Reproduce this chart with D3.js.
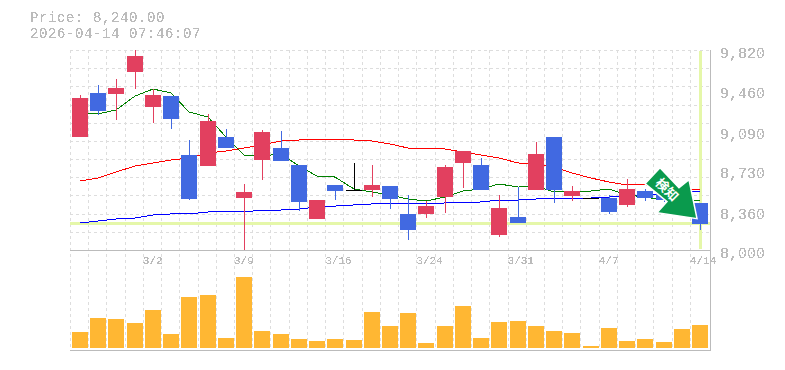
<!DOCTYPE html>
<html>
<head>
<meta charset="utf-8">
<script src="https://cdn.jsdelivr.net/npm/d3@7"></script>
<style>
html, body { margin: 0; padding: 0; background: #fff; overflow: hidden; }
text { font-family: "Liberation Mono", "DejaVu Sans Mono", monospace; fill: #bbb; }
</style>
</head>
<body>
<div id="chart"></div>
<script>
var dates = ["2/24","2/25","2/26","2/27","3/2","3/3","3/4","3/5","3/6","3/9","3/10","3/11","3/12","3/13","3/16","3/17","3/18","3/19","3/23","3/24","3/25","3/26","3/27","3/30","3/31","4/1","4/2","4/3","4/6","4/7","4/8","4/9","4/10","4/13","4/14"];
var dateTicks = ["3/2","3/9","3/16","3/24","3/31","4/7","4/14"];
var priceTicks = [8000, 8360, 8730, 9090, 9460, 9820];

var opens  = [9028,9429,9420,9620,9301,9401,8864,8764,9028,8473,8819,8928,8774,8282,8592,8546,8546,8582,8328,8328,8482,8792,8774,8137,8300,8546,9028,8491,8473,8473,8410,8537,8519,8473,8428];
var highs  = [9410,9501,9556,9820,9465,9401,9001,9238,9101,8601,9092,9083,8774,8455,8592,8792,8774,8582,8500,8446,8774,8901,8837,8500,8573,8983,9028,8582,8473,8500,8646,8555,8546,8528,8428];
var lows   = [9028,9228,9183,9465,9156,9101,8455,8764,8928,8000,8637,8810,8355,8282,8455,8546,8482,8373,8091,8291,8337,8564,8546,8118,8246,8546,8428,8446,8473,8328,8391,8446,8437,8346,8182];
var closes = [9383,9265,9474,9765,9410,9192,8464,9174,8928,8528,9074,8810,8437,8455,8537,8546,8592,8464,8182,8400,8755,8901,8546,8382,8246,8874,8546,8537,8473,8346,8555,8473,8455,8364,8240];

var maShort = [9247,9238,9274,9401,9465,9429,9256,9210,9028,8864,8855,8874,8764,8673,8664,8555,8528,8500,8464,8446,8482,8537,8555,8601,8573,8582,8528,8528,8537,8555,8500,8482,8455,8455,8446];
var maMid   = [8628,8655,8710,8764,8792,8819,8837,8883,8901,8928,8956,8992,9001,9010,9010,9001,8992,8965,8928,8928,8919,8892,8864,8837,8792,8783,8755,8701,8655,8619,8592,8592,8573,8555,8546];
var maLong  = [8246,8264,8282,8291,8319,8328,8328,8346,8346,8346,8364,8364,8373,8391,8400,8410,8419,8419,8419,8419,8428,8428,8437,8455,8455,8464,8473,8473,8473,8482,8491,8500,8510,8528,8537];

var volumes = [16,30,29,25,38,14,51,53,10,71,17,14,9,7,9,8,36,22,35,5,22,42,10,26,27,22,17,15,2,20,7,9,6,19,23];
var lastPrice = 8240;
var lastLabel = "Price: 8,240.00";
var stamp = "2026-04-14 07:46:07";
var signLabel = "検知";

var W = 785, H = 370;
var left = 70, right = 709, top_ = 50, priceBottom = 250, volBottom = 350;

var svg = d3.select("#chart").append("svg")
    .attr("width", W).attr("height", H)
    .style("display", "block");

// 文字のギザギザ(元画像はアンチエイリアスなし)
var flt = svg.append("defs").append("filter").attr("id", "jag")
    .attr("x", 0).attr("y", 0).attr("width", "100%").attr("height", "100%");
flt.append("feComponentTransfer").append("feFuncA")
    .attr("type", "discrete").attr("tableValues", "0 0 1 1 1");

var x = d3.scaleBand().domain(d3.range(dates.length)).range([70.88, 709.1]);
var xDate = d3.scaleBand().domain(dates).range([70.88, 709.1]);
var y = d3.scaleLinear().domain([8000, 9820]).range([priceBottom, top_]);
var yVol = d3.scaleLinear().domain([0, 100]).range([348, 248]);

var cx = function (i) { return Math.round(x(i) + x.bandwidth() / 2); };
var gridX = function (i) { return Math.floor(x(i) - 0.5) + 0.5; };
var boxW = 16;

// グリッド
var grid = svg.append("g").attr("shape-rendering", "crispEdges")
    .attr("stroke", "#ddd").attr("stroke-dasharray", "3,3");
grid.selectAll(".gx").data(d3.range(dates.length)).enter().append("line")
    .attr("x1", gridX).attr("x2", gridX)
    .attr("y1", top_).attr("y2", volBottom);
grid.selectAll(".gy").data(d3.range(0, 11)).enter().append("line")
    .attr("x1", left).attr("x2", right)
    .attr("y1", function (d) { return Math.round(top_ + d * (priceBottom - top_) / 11) + 0.5; })
    .attr("y2", function (d) { return Math.round(top_ + d * (priceBottom - top_) / 11) + 0.5; });

// 現在値ライン
var mark = svg.append("g").attr("shape-rendering", "crispEdges")
    .attr("stroke", "#e5f7a9").attr("stroke-width", 3);
mark.append("line").attr("x1", left).attr("x2", right + 1)
    .attr("y1", y(lastPrice)).attr("y2", y(lastPrice));
mark.append("line").attr("x1", cx(34) + 0.5).attr("x2", cx(34) + 0.5)
    .attr("y1", top_ + 1).attr("y2", priceBottom - 1);

// 枠
var frame = svg.append("g").attr("shape-rendering", "crispEdges")
    .attr("stroke", "#bbb").attr("stroke-width", 1);
frame.append("line").attr("x1", left).attr("x2", right + 2).attr("y1", priceBottom + 0.5).attr("y2", priceBottom + 0.5);
frame.append("line").attr("x1", left).attr("x2", right + 2).attr("y1", volBottom + 0.5).attr("y2", volBottom + 0.5);
frame.append("line").attr("x1", right + 1.5).attr("x2", right + 1.5).attr("y1", top_).attr("y2", volBottom + 1);

// 移動平均
var line = d3.line().x(function (d, i) { return cx(i); }).y(function (d) { return y(d); });
[[maLong, "#0000ff"], [maMid, "#ff0000"], [maShort, "#008000"]].forEach(function (s) {
    svg.append("path").datum(s[0])
        .attr("fill", "none").attr("stroke", s[1]).attr("stroke-width", 1)
        .attr("shape-rendering", "crispEdges")
        .attr("d", line);
});

// ローソク足
function candleColor(i) {
    if (opens[i] === closes[i]) return "#000";
    return closes[i] > opens[i] ? "#e2405f" : "#4169e1";
}
var candles = svg.append("g").attr("shape-rendering", "crispEdges");
candles.selectAll(".wick").data(d3.range(dates.length)).enter().append("line")
    .attr("x1", function (i) { return cx(i) + 0.5; })
    .attr("x2", function (i) { return cx(i) + 0.5; })
    .attr("y1", function (i) { return y(highs[i]); })
    .attr("y2", function (i) { return y(lows[i]); })
    .attr("stroke", candleColor);
candles.selectAll(".body").data(d3.range(dates.length)).enter().append("rect")
    .attr("x", function (i) { return cx(i) - boxW / 2; })
    .attr("width", boxW)
    .attr("y", function (i) { return y(Math.max(opens[i], closes[i])); })
    .attr("height", function (i) { return Math.max(1, Math.abs(y(opens[i]) - y(closes[i]))); })
    .attr("fill", candleColor);

// 出来高
svg.append("g").attr("shape-rendering", "crispEdges")
    .selectAll("rect").data(volumes).enter().append("rect")
    .attr("x", function (d, i) { return cx(i) - boxW / 2; })
    .attr("width", boxW)
    .attr("y", function (d) { return yVol(d); })
    .attr("height", function (d) { return yVol(0) - yVol(d); })
    .attr("fill", "#ffb733");

// 軸
var axisY = d3.axisRight(y).tickValues(priceTicks).tickSize(0).tickPadding(0)
    .tickFormat(d3.format(","));
var gy = svg.append("g").attr("transform", "translate(720,3)").call(axisY);
gy.attr("font-family", null).attr("filter", "url(#jag)");
gy.select(".domain").remove();
gy.selectAll("text").attr("font-size", 15).attr("dy", "0.32em");

var axisX = d3.axisBottom(xDate).tickValues(dateTicks).tickSize(0).tickPadding(0);
var gx = svg.append("g").attr("transform", "translate(0,256)").call(axisX);
gx.attr("font-family", null).attr("filter", "url(#jag)");
gx.select(".domain").remove();
gx.selectAll("text").attr("font-size", 11).attr("text-anchor", "start")
    .attr("x", -x.bandwidth() / 2 - 1).attr("dy", "0.71em");

// 見出し
var head = svg.append("g").attr("filter", "url(#jag)");
head.append("text").attr("x", 30).attr("y", 22).attr("font-size", 14).attr("letter-spacing", 0.6).text(lastLabel);
head.append("text").attr("x", 30).attr("y", 38).attr("font-size", 14).attr("letter-spacing", 0.6).text(stamp);

// 売買サイン(矢印)
var tipX = cx(34) - 3, tipY = y(closes[34]) - 5;
var arrowShape = [[-52, -35], [-37, -51], [-18, -31], [-8, -39], [0, 0], [-40, -6], [-30, -17]];
var sign = svg.append("g").attr("transform", "translate(" + tipX + "," + tipY + ")");
sign.append("polygon")
    .attr("points", arrowShape.join(" "))
    .attr("fill", "#0a9a4d").attr("stroke", "#fff").attr("stroke-width", 1.5)
    .attr("stroke-linejoin", "miter");
sign.append("text")
    .attr("transform", "translate(-30,-29) rotate(45)")
    .attr("text-anchor", "middle").attr("dy", "0.36em")
    .attr("font-size", 13).attr("font-weight", "bold")
    .style("font-family", "'Noto Sans CJK JP'").style("fill", "#fff")
    .text(signLabel);
</script>
</body>
</html>
